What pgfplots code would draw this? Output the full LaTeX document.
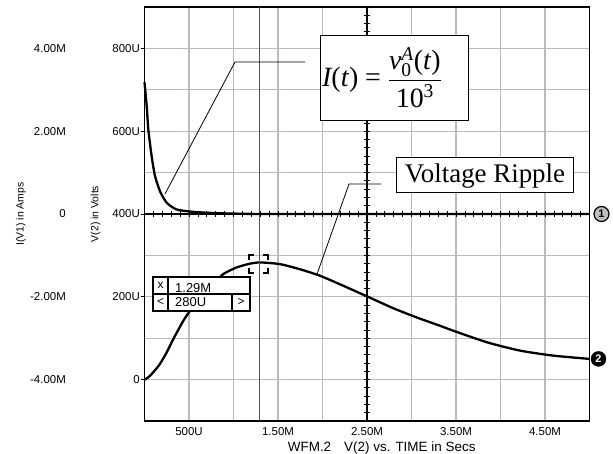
\documentclass[border=0pt]{standalone}
\usepackage{pgfplots}
\pgfplotsset{compat=1.18}
\usepackage{amsmath}
\usepackage{fontspec}
\setmainfont{Liberation Sans}
\newfontfamily\serif{Liberation Serif}
\definecolor{gridc}{rgb}{0.72,0.74,0.72}
\definecolor{cursorc}{RGB}{85,85,85}
\definecolor{markc}{RGB}{190,190,190}

% V(2) in microvolts vs time in ms
\pgfplotstableread{
t v
0 0
0.02 2
0.05 7
0.1 18
0.174 38
0.25 66
0.324 98
0.436 142
0.511 166
0.6 192
0.7 214
0.8 236
0.885 255
1.036 271
1.185 280
1.30 283
1.52 279
1.74 267
1.97 251
2.23 227
2.50 201
2.80 172
3.06 150
3.32 130
3.47 118
3.85 90
4.22 70
4.59 58
5.0 50
}\vtable

% I(V1) in mA vs time in ms
\pgfplotstableread{
t i
0 3.18
0.025 2.60
0.043 2.04
0.08 1.40
0.118 0.92
0.174 0.55
0.25 0.27
0.36 0.11
0.51 0.06
0.7 0.03
1.0 0.01
1.5 0.0
5.0 0.0
}\itable

\begin{document}
\begin{tikzpicture}
\begin{axis}[
  at={(0,0)}, anchor=south west,
  width=445bp, height=414bp, scale only axis,
  xmin=0, xmax=5, ymin=-100, ymax=900,
  xtick={0.5,1,1.5,2,2.5,3,3.5,4,4.5},
  xticklabels={500U,,1.50M,,2.50M,,3.50M,,4.50M},
  ytick={0,100,200,300,400,500,600,700,800},
  yticklabels={0,,200U,,400U,,600U,,800U},
  xmajorgrids, ymajorgrids,
  major grid style={draw=gridc, line width=1.3bp},
  major tick length=0pt,
  axis line style={black, line width=1.1bp},
  tick label style={font=\fontsize{11.5}{13}\selectfont},
  xticklabel style={inner sep=0pt, anchor=north, yshift=-6.7bp},
  yticklabel style={inner sep=0pt, anchor=east, xshift=-4.5bp},
  xlabel={WFM.2\hspace{13bp}V(2) vs. TIME in Secs},
  xlabel style={at={(axis description cs:0.533,0)}, anchor=center, yshift=-27.5bp,
    font=\fontsize{13.5}{16}\selectfont, inner sep=0pt},
  ylabel={V(2) in Volts},
  ylabel style={at={(axis description cs:-0.110,0.5)}, anchor=center,
    font=\fontsize{10.5}{12}\selectfont, inner sep=0pt},
  clip=false,
]
\addplot[black, line width=2.3bp, smooth, tension=0.4] table[x=t, y=v] {\vtable};
\addplot[cursorc, line width=1bp] coordinates {(1.29,-100) (1.29,900)};
\coordinate (PSW) at (rel axis cs:0,0);
\node[circle, fill=black, draw=black, inner sep=0pt, minimum size=15bp,
  text=white, font=\fontsize{11}{11}\selectfont\bfseries]
  at (axis cs:5,50) [xshift=9bp] {2};
\end{axis}

\begin{axis}[
  at={(0,0)}, anchor=south west,
  width=445bp, height=414bp, scale only axis,
  xmin=0, xmax=5, ymin=-5, ymax=5,
  hide x axis,
  axis y line*=left,
  y axis line style={draw=none},
  ytick={-4,-2,0,2,4},
  yticklabels={-4.00M,-2.00M,0,2.00M,4.00M},
  major tick length=4bp, tick align=outside,
  ytick style={black, line width=0.8bp},
  tick label style={font=\fontsize{11.5}{13}\selectfont},
  yticklabel style={inner sep=0pt, anchor=east, xshift=-74.5bp},
  ylabel={I(V1) in Amps},
  ylabel style={at={(axis description cs:-0.2775,0.5)}, anchor=center,
    font=\fontsize{10.5}{12}\selectfont, inner sep=0pt},
  clip=false,
]
\addplot[black, line width=2.3bp, smooth, tension=0.4] table[x=t, y=i] {\itable};
\end{axis}

\begin{axis}[
  at={(0,0)}, anchor=south west,
  width=445bp, height=414bp, scale only axis,
  xmin=-2.5, xmax=2.5, ymin=-500, ymax=500,
  axis lines=center,
  every inner x axis line/.append style={-},
  every inner y axis line/.append style={-},
  x axis line style={black, line width=1.8bp, -},
  y axis line style={black, line width=1.2bp, -},
  xtick distance=0.1, ytick distance=20,
  xticklabels={}, yticklabels={},
  tick align=center, major tick length=6bp,
  tick style={black, line width=0.8bp},
  clip=false,
]
\node[circle, fill=markc, draw=black, line width=1.2bp, inner sep=0pt, minimum size=15bp,
  font=\fontsize{11}{11}\selectfont\bfseries]
  at (axis cs:2.5,0) [xshift=12bp] {1};
\end{axis}

\begin{scope}[shift={(PSW)}, xshift=-144.5bp, yshift=421bp, x=1bp, y=-1bp]
  % cursor readout box
  \draw[black, line width=2bp, fill=white] (153,277) rectangle (250,311);
  \draw[black, line width=2bp] (153,294) -- (250,294);
  \draw[black, line width=2bp] (168,277) -- (168,311);
  \draw[black, line width=2bp] (232,294) -- (232,311);
  \node[font=\fontsize{12}{12}\selectfont, inner sep=0pt] at (160.5,285) {x};
  \node[font=\fontsize{12}{12}\selectfont, inner sep=0pt] at (160.5,302.5) {<};
  \node[font=\fontsize{12}{12}\selectfont, inner sep=0pt] at (241,302.5) {>};
  \node[font=\fontsize{13}{13}\selectfont, inner sep=0pt, anchor=base west] at (175,292.5) {1.29M};
  \node[font=\fontsize{13}{13}\selectfont, inner sep=0pt, anchor=base west] at (175,307) {280U};
  % dashed bracket marker
  \begin{scope}[line width=1.6bp, black]
    \draw (249,260) -- (249,255) -- (254,255);
    \draw (263,255) -- (268,255) -- (268,260);
    \draw (249,268) -- (249,273) -- (254,273);
    \draw (263,273) -- (268,273) -- (268,268);
  \end{scope}
  % leader lines
  \draw[black, line width=0.8bp] (305,62) -- (235,62) -- (165,194);
  \draw[black, line width=0.8bp] (381,184) -- (349,184) -- (316.7,275);
  % equation box
  \draw[black, line width=0.8bp, fill=white] (320.7,35) rectangle (468.3,120);
  \node[inner sep=0pt, anchor=west] at (322,77.5) {\serif\fontsize{28}{32}\selectfont
    $\text{\itshape I}\text{(\itshape t\/\upshape)} \mathrel{\text{=}}
     \dfrac{\text{\itshape v}_{\text{0}}^{\text{\itshape A}}\text{(\itshape t\/\upshape)}}{\text{10}^{\text{3}}}$};
  % Voltage Ripple box
  \draw[black, line width=0.8bp, fill=white] (396,157.7) rectangle (573.3,192.3);
  \node[inner sep=0pt, font=\serif\fontsize{27}{30}\selectfont] at (485,176) {Voltage Ripple};
  \pgfresetboundingbox
  \path[use as bounding box] (0,0) rectangle (613,454);
\end{scope}
\end{tikzpicture}
\end{document}
